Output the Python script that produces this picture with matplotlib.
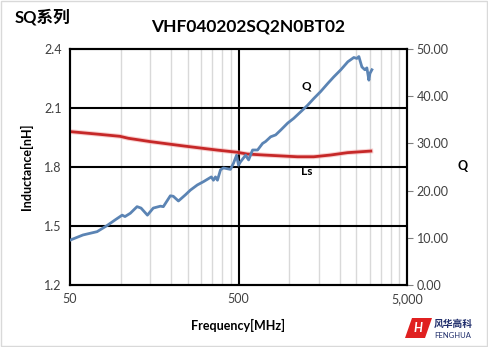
import matplotlib
matplotlib.use("Agg")
import matplotlib.pyplot as plt
from matplotlib.patches import Polygon, Rectangle

plt.rcParams['font.family'] = ['Lato', 'Noto Sans CJK SC', 'DejaVu Sans']

# Q curve (right axis)
q_freq = [50, 59.7, 72.4, 83, 92.7, 102, 106, 114, 125, 132, 144, 156, 172, 179,
          197, 205, 220, 242, 259, 285, 310, 345, 355, 365, 375, 391, 407, 448,
          467, 487, 500, 514, 551, 574, 606, 649, 695, 724, 776, 831, 889, 979,
          1063, 1170, 1287, 1398, 1538, 1693, 1839, 2024, 2228, 2418, 2520, 2590,
          2699, 2812, 2890, 2970, 3011, 3095]
q_val = [9.5, 10.6, 11.3, 12.6, 13.8, 14.8, 14.5, 15.2, 16.6, 16.3, 14.8, 16.3, 16.7, 16.6,
         18.9, 18.8, 17.8, 19.1, 20.1, 21.2, 21.9, 22.9, 22.2, 22.9, 22.2, 24.4, 24.8, 24.5,
         25.8, 27.5, 25.4, 26.1, 27.5, 26.5, 28.6, 28.6, 30.0, 30.4, 31.4, 31.8, 32.8, 34.3,
         35.3, 36.7, 38.1, 39.5, 41.0, 42.7, 44.1, 45.6, 47.3, 48.2, 48.0, 48.4,
         46.2, 45.6, 46.0, 43.4, 44.8, 45.6]

# Inductance curve (left axis)
ls_freq = [50, 75, 99, 111, 150, 236, 374, 490, 563, 705, 1119, 1398, 1763, 2221, 3050]
ls_val = [1.980, 1.966, 1.956, 1.946, 1.929, 1.907, 1.886, 1.875, 1.866, 1.861,
          1.852, 1.852, 1.861, 1.873, 1.881]

x_ticks = [50, 500, 5000]
x_labels = ['50', '500', '5,000']
l_ticks = [1.2, 1.5, 1.8, 2.1, 2.4]
q_ticks = [0, 10, 20, 30, 40, 50]

W, H = 488, 347
fig = plt.figure(figsize=(W / 100, H / 100), dpi=100)
fig.patches.append(Rectangle((0.002, 0.003), 0.996, 0.994, transform=fig.transFigure,
                             fill=False, edgecolor='#d9d9d9', linewidth=1))

ax = fig.add_axes([70 / W, 1 - 285 / H, 337 / W, 236 / H])
ax.set_xscale('log')
ax.set_xlim(50, 5000)
ax.set_ylim(1.2, 2.4)

# grid: minor lines every 1/10 of the decade start (Excel style)
minor = [50 * k for k in range(2, 10)] + [500 * k for k in range(2, 10)]
for f in minor:
    ax.axvline(f, color='#d9d9d9', linewidth=1, zorder=0)
ax.axvline(500, color='black', linewidth=1.5, zorder=1)
for v in (1.5, 1.8, 2.1):
    ax.axhline(v, color='black', linewidth=1.5, zorder=1)

ax.plot(ls_freq, ls_val, color='#f2a0a0', linewidth=3.5, alpha=0.5, zorder=3)
ax.plot(ls_freq, ls_val, color='#c62828', linewidth=2, zorder=3)

ax.set_xticks(x_ticks)
ax.set_xticklabels(x_labels)
ax.xaxis.set_minor_locator(plt.NullLocator())
ax.set_yticks(l_ticks)
ax.set_yticklabels(['%.1f' % v for v in l_ticks])
ax.tick_params(axis='both', labelsize=9, labelcolor='#404040', length=0, pad=6)
for s in ax.spines.values():
    s.set_linewidth(1.5)

ax2 = ax.twinx()
ax2.set_ylim(0, 50)
ax2.plot(q_freq, q_val, color='#5b84b4', linewidth=2, zorder=4)
ax2.set_yticks(q_ticks)
ax2.set_yticklabels(['%.2f' % v for v in q_ticks])
ax2.tick_params(axis='y', labelsize=9, labelcolor='#404040', length=4, width=0.8,
                color='#808080', pad=3)
for s in ax2.spines.values():
    s.set_linewidth(1.5)

ax2.text(1270, 42.2, 'Q', fontsize=8.5, fontweight='bold', ha='center', va='center')
ax.text(1270, 1.775, 'Ls', fontsize=8.5, fontweight='bold', ha='center', va='center')

ax.set_ylabel('Inductance[nH]', fontsize=9, fontweight='bold', labelpad=8)
ax.set_xlabel('Frequency[MHz]', fontsize=9, fontweight='bold', labelpad=10)
fig.text(463 / W, 1 - 166 / H, 'Q', fontsize=9, fontweight='bold', ha='center', va='center')

fig.text(15 / W, 1 - 17 / H, 'SQ系列', fontsize=12, fontweight='bold', ha='left', va='center')
fig.text(248 / W, 1 - 27 / H, 'VHF040202SQ2N0BT02', fontsize=12.5, fontweight='bold',
         ha='center', va='center')

# logo
fig.patches.append(Polygon([(405 / W, 1 - 338 / H), (412 / W, 1 - 318 / H),
                            (432 / W, 1 - 318 / H), (425 / W, 1 - 338 / H)],
                           closed=True, transform=fig.transFigure,
                           facecolor='#e02020', edgecolor='none'))
fig.text(418.5 / W, 1 - 328 / H, 'H', fontsize=9, fontweight='bold', color='white',
         style='italic', ha='center', va='center')
fig.text(434 / W, 1 - 324 / H, '风华高科', fontsize=7, fontweight='bold', color='#1f2d6b',
         ha='left', va='center')
fig.text(434 / W, 1 - 336 / H, 'FENGHUA', fontsize=5.5, color='#1f2d6b',
         ha='left', va='center')

fig.savefig('out.png', dpi=100)
